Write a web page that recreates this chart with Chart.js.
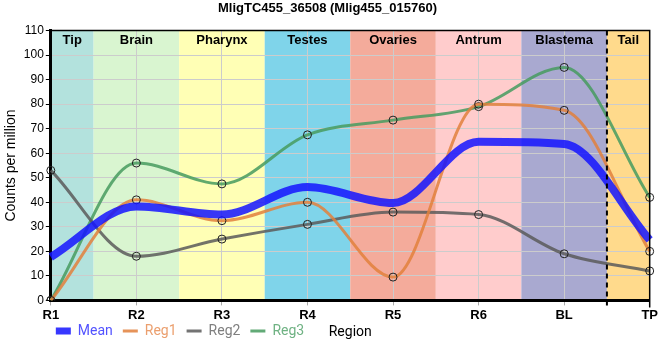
<!DOCTYPE html>
<html>
<head>
<meta charset="utf-8">
<script src="https://cdn.jsdelivr.net/npm/chart.js@4"></script>
<style>
  body { margin: 0; background: #fff; }
  #wrap { width: 660px; height: 360px; }
</style>
</head>
<body>
<div id="wrap"><canvas id="geneChart"></canvas></div>
<script>
// data
const regions = ['R1', 'R2', 'R3', 'R4', 'R5', 'R6', 'BL', 'TP'];
const meanCounts = [17.7, 38.3, 35, 46.2, 39.7, 64.7, 63.8, 24.7];
const reg1Counts = [0, 41, 32.5, 40, 9.5, 80, 77.5, 20];
const reg2Counts = [53, 18, 25, 31, 36, 35, 19, 12];
const reg3Counts = [0, 56, 47.5, 67.5, 73.5, 79, 95, 42];
const bandNames = ['Tip', 'Brain', 'Pharynx', 'Testes', 'Ovaries', 'Antrum', 'Blastema', 'Tail'];
const bandColors = ['#b3e2dd', '#d9f5d0', '#ffffb5', '#7fd4ea', '#f4ab9b', '#ffcccc', '#a9a9d0', '#ffda8c'];
const legendColors = ['#5252ff', '#eb9f6e', '#7f7f7f', '#6fb283'];

Chart.defaults.font.family = '"Liberation Sans", Arial, sans-serif';
Chart.defaults.color = '#000';

// coloured region bands behind the grid, names on top
const bandsPlugin = {
  id: 'bands',
  beforeDraw(chart) {
    const { ctx, chartArea: a, scales: { x } } = chart;
    ctx.save();
    ctx.beginPath();
    ctx.rect(a.left, a.top, a.right - a.left, a.bottom - a.top);
    ctx.clip();
    bandColors.forEach((c, i) => {
      const x0 = x.getPixelForValue(i - 0.5);
      const x1 = x.getPixelForValue(i + 0.5);
      ctx.fillStyle = c;
      ctx.fillRect(x0, a.top, x1 - x0, a.bottom - a.top);
    });
    ctx.restore();
  },
  afterDatasetsDraw(chart) {
    const { ctx, chartArea: a, scales: { x } } = chart;
    ctx.save();
    // dashed separator between Blastema and Tail
    const xd = x.getPixelForValue(6.5);
    ctx.strokeStyle = '#000';
    ctx.lineWidth = 2;
    ctx.setLineDash([5, 4]);
    ctx.beginPath();
    ctx.moveTo(xd, a.top);
    ctx.lineTo(xd, a.bottom + 7);
    ctx.stroke();
    ctx.setLineDash([]);
    // top and right frame
    ctx.lineWidth = 1.5;
    ctx.beginPath();
    ctx.moveTo(a.left, a.top);
    ctx.lineTo(a.right, a.top);
    ctx.lineTo(a.right, a.bottom + 7);
    ctx.stroke();
    // band names
    ctx.fillStyle = '#000';
    ctx.font = 'bold 13px "Liberation Sans", Arial, sans-serif';
    ctx.textAlign = 'center';
    ctx.textBaseline = 'middle';
    bandNames.forEach((n, i) => {
      const x0 = Math.max(a.left, x.getPixelForValue(i - 0.5));
      const x1 = Math.min(a.right, x.getPixelForValue(i + 0.5));
      ctx.fillText(n, (x0 + x1) / 2, a.top + 10);
    });
    ctx.restore();
  },
  afterLayout(chart) {
    chart.legend.left = chart.chartArea.left - 5;
    chart.legend.top -= 11;
  },
  afterDraw(chart) {
    const { ctx, chartArea: a, legend } = chart;
    ctx.save();
    ctx.fillStyle = '#000';
    ctx.font = '14px Roboto, sans-serif';
    ctx.textAlign = 'center';
    ctx.textBaseline = 'middle';
    ctx.fillText('Region', (a.left + a.right) / 2, legend.top + 18);
    ctx.restore();
  }
};

const pointStyle = { pointRadius: 4, pointBorderColor: '#222', pointBorderWidth: 1, pointBackgroundColor: 'rgba(0,0,0,0)' };

new Chart(document.getElementById('geneChart'), {
  type: 'line',
  data: {
    labels: regions,
    datasets: [
      { label: 'Mean', data: meanCounts, borderColor: 'rgba(20,20,255,0.85)', borderWidth: 8, pointRadius: 0 },
      Object.assign({ label: 'Reg1', data: reg1Counts, borderColor: 'rgba(226,128,60,0.85)', borderWidth: 3 }, pointStyle),
      Object.assign({ label: 'Reg2', data: reg2Counts, borderColor: 'rgba(90,90,90,0.85)', borderWidth: 3 }, pointStyle),
      Object.assign({ label: 'Reg3', data: reg3Counts, borderColor: 'rgba(70,155,95,0.85)', borderWidth: 3 }, pointStyle)
    ]
  },
  options: {
    responsive: true,
    maintainAspectRatio: false,
    animation: false,
    datasets: { line: { cubicInterpolationMode: 'monotone', fill: false } },
    layout: { padding: { top: 0, right: 8, bottom: 1, left: 3 } },
    plugins: {
      title: {
        display: true,
        text: 'MligTC455_36508 (Mlig455_015760)',
        font: { size: 13, weight: 'bold' },
        padding: { top: 1, bottom: 14 }
      },
      legend: {
        position: 'bottom',
        align: 'start',
        labels: {
          usePointStyle: true,
          pointStyleWidth: 15,
          font: { family: 'Roboto, sans-serif', size: 14 },
          padding: 10,
          generateLabels: chart => chart.data.datasets.map((ds, i) => ({
            text: ds.label,
            datasetIndex: i,
            fillStyle: ds.borderColor,
            strokeStyle: ds.borderColor,
            lineWidth: i === 0 ? 7 : 3,
            pointStyle: 'line',
            fontColor: legendColors[i],
            hidden: false
          }))
        }
      },
      tooltip: { enabled: false }
    },
    scales: {
      x: {
        offset: false,
        grid: { color: '#cccccc', tickLength: 5, tickColor: '#aaa' },
        border: { color: '#000', width: 3 },
        ticks: { font: { size: 13, weight: 'bold' }, color: '#000', padding: 2, maxRotation: 0 }
      },
      y: {
        min: 0,
        max: 110,
        grid: { color: '#cccccc', tickLength: 5, tickColor: '#000' },
        border: { color: '#000', width: 3 },
        ticks: { stepSize: 10, font: { size: 12 }, color: '#000', padding: 2 },
        title: { display: true, text: 'Counts per million', font: { size: 14 }, padding: { top: 0, bottom: 2 } }
      }
    }
  },
  plugins: [bandsPlugin]
});
</script>
</body>
</html>
